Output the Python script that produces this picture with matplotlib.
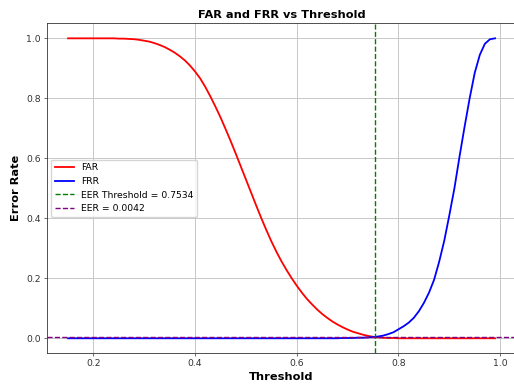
import numpy as np
import matplotlib
matplotlib.use("Agg")
import matplotlib.pyplot as plt

# Data (thresholds 0.15 .. 0.99, step 0.01)
thresholds = np.round(np.arange(0.15, 0.995, 0.01), 2)

far = ([1.0] * 10 +
       [0.999, 0.999, 0.998, 0.997, 0.995, 0.992, 0.989, 0.984, 0.978, 0.971,
        0.962, 0.952, 0.940, 0.926, 0.909, 0.889, 0.866, 0.838, 0.806, 0.772,
        0.736, 0.697, 0.657, 0.615, 0.572, 0.529, 0.486, 0.443, 0.401, 0.361,
        0.323, 0.288, 0.256, 0.227, 0.200, 0.175, 0.152, 0.131, 0.113, 0.096,
        0.081, 0.068, 0.056, 0.046, 0.037, 0.029, 0.022, 0.017, 0.012, 0.008,
        0.005, 0.003, 0.002, 0.001, 0.001] +
       [0.0] * 20)

frr = ([0.0] * 54 +
       [0.001, 0.001, 0.001, 0.002, 0.002, 0.003, 0.004, 0.006, 0.009, 0.014,
        0.020, 0.030, 0.040, 0.052, 0.068, 0.090, 0.118, 0.152, 0.195, 0.255,
        0.325, 0.410, 0.500, 0.605, 0.705, 0.800, 0.885, 0.945, 0.982, 0.997,
        1.000])

eer_threshold = 0.7534
eer_value = 0.0042

fig = plt.figure(figsize=(5.14, 3.89), dpi=100)
ax = fig.add_axes([0.0909, 0.0918, 0.9138, 0.8482])

ax.plot(thresholds, far, color='red', lw=1.3, label='FAR')
ax.plot(thresholds, frr, color='blue', lw=1.3, label='FRR')
ax.axvline(eer_threshold, color='green', ls='--', lw=1.0,
           label=f'EER Threshold = {eer_threshold:.4f}')
ax.axhline(eer_value, color='purple', ls='--', lw=1.0,
           label=f'EER = {eer_value:.4f}')

ax.set_title('FAR and FRR vs Threshold', fontsize=8.2, fontweight='bold', pad=4)
ax.set_xlabel('Threshold', fontsize=8.2, fontweight='bold', labelpad=3)
ax.set_ylabel('Error Rate', fontsize=8.2, fontweight='bold', labelpad=4)
ax.tick_params(labelsize=6.7, length=2.2, width=0.5, pad=2, colors='#333333',
               labelcolor='#333333')
for s in ax.spines.values():
    s.set_linewidth(0.6)
    s.set_color('#333333')
ax.grid(True, lw=0.7, color='#c8c8c8')
ax.legend(loc='center left', fontsize=6.7, framealpha=0.8, borderpad=0.4,
          handlelength=2.0, labelspacing=0.5)

fig.savefig('out.png', dpi=100)
